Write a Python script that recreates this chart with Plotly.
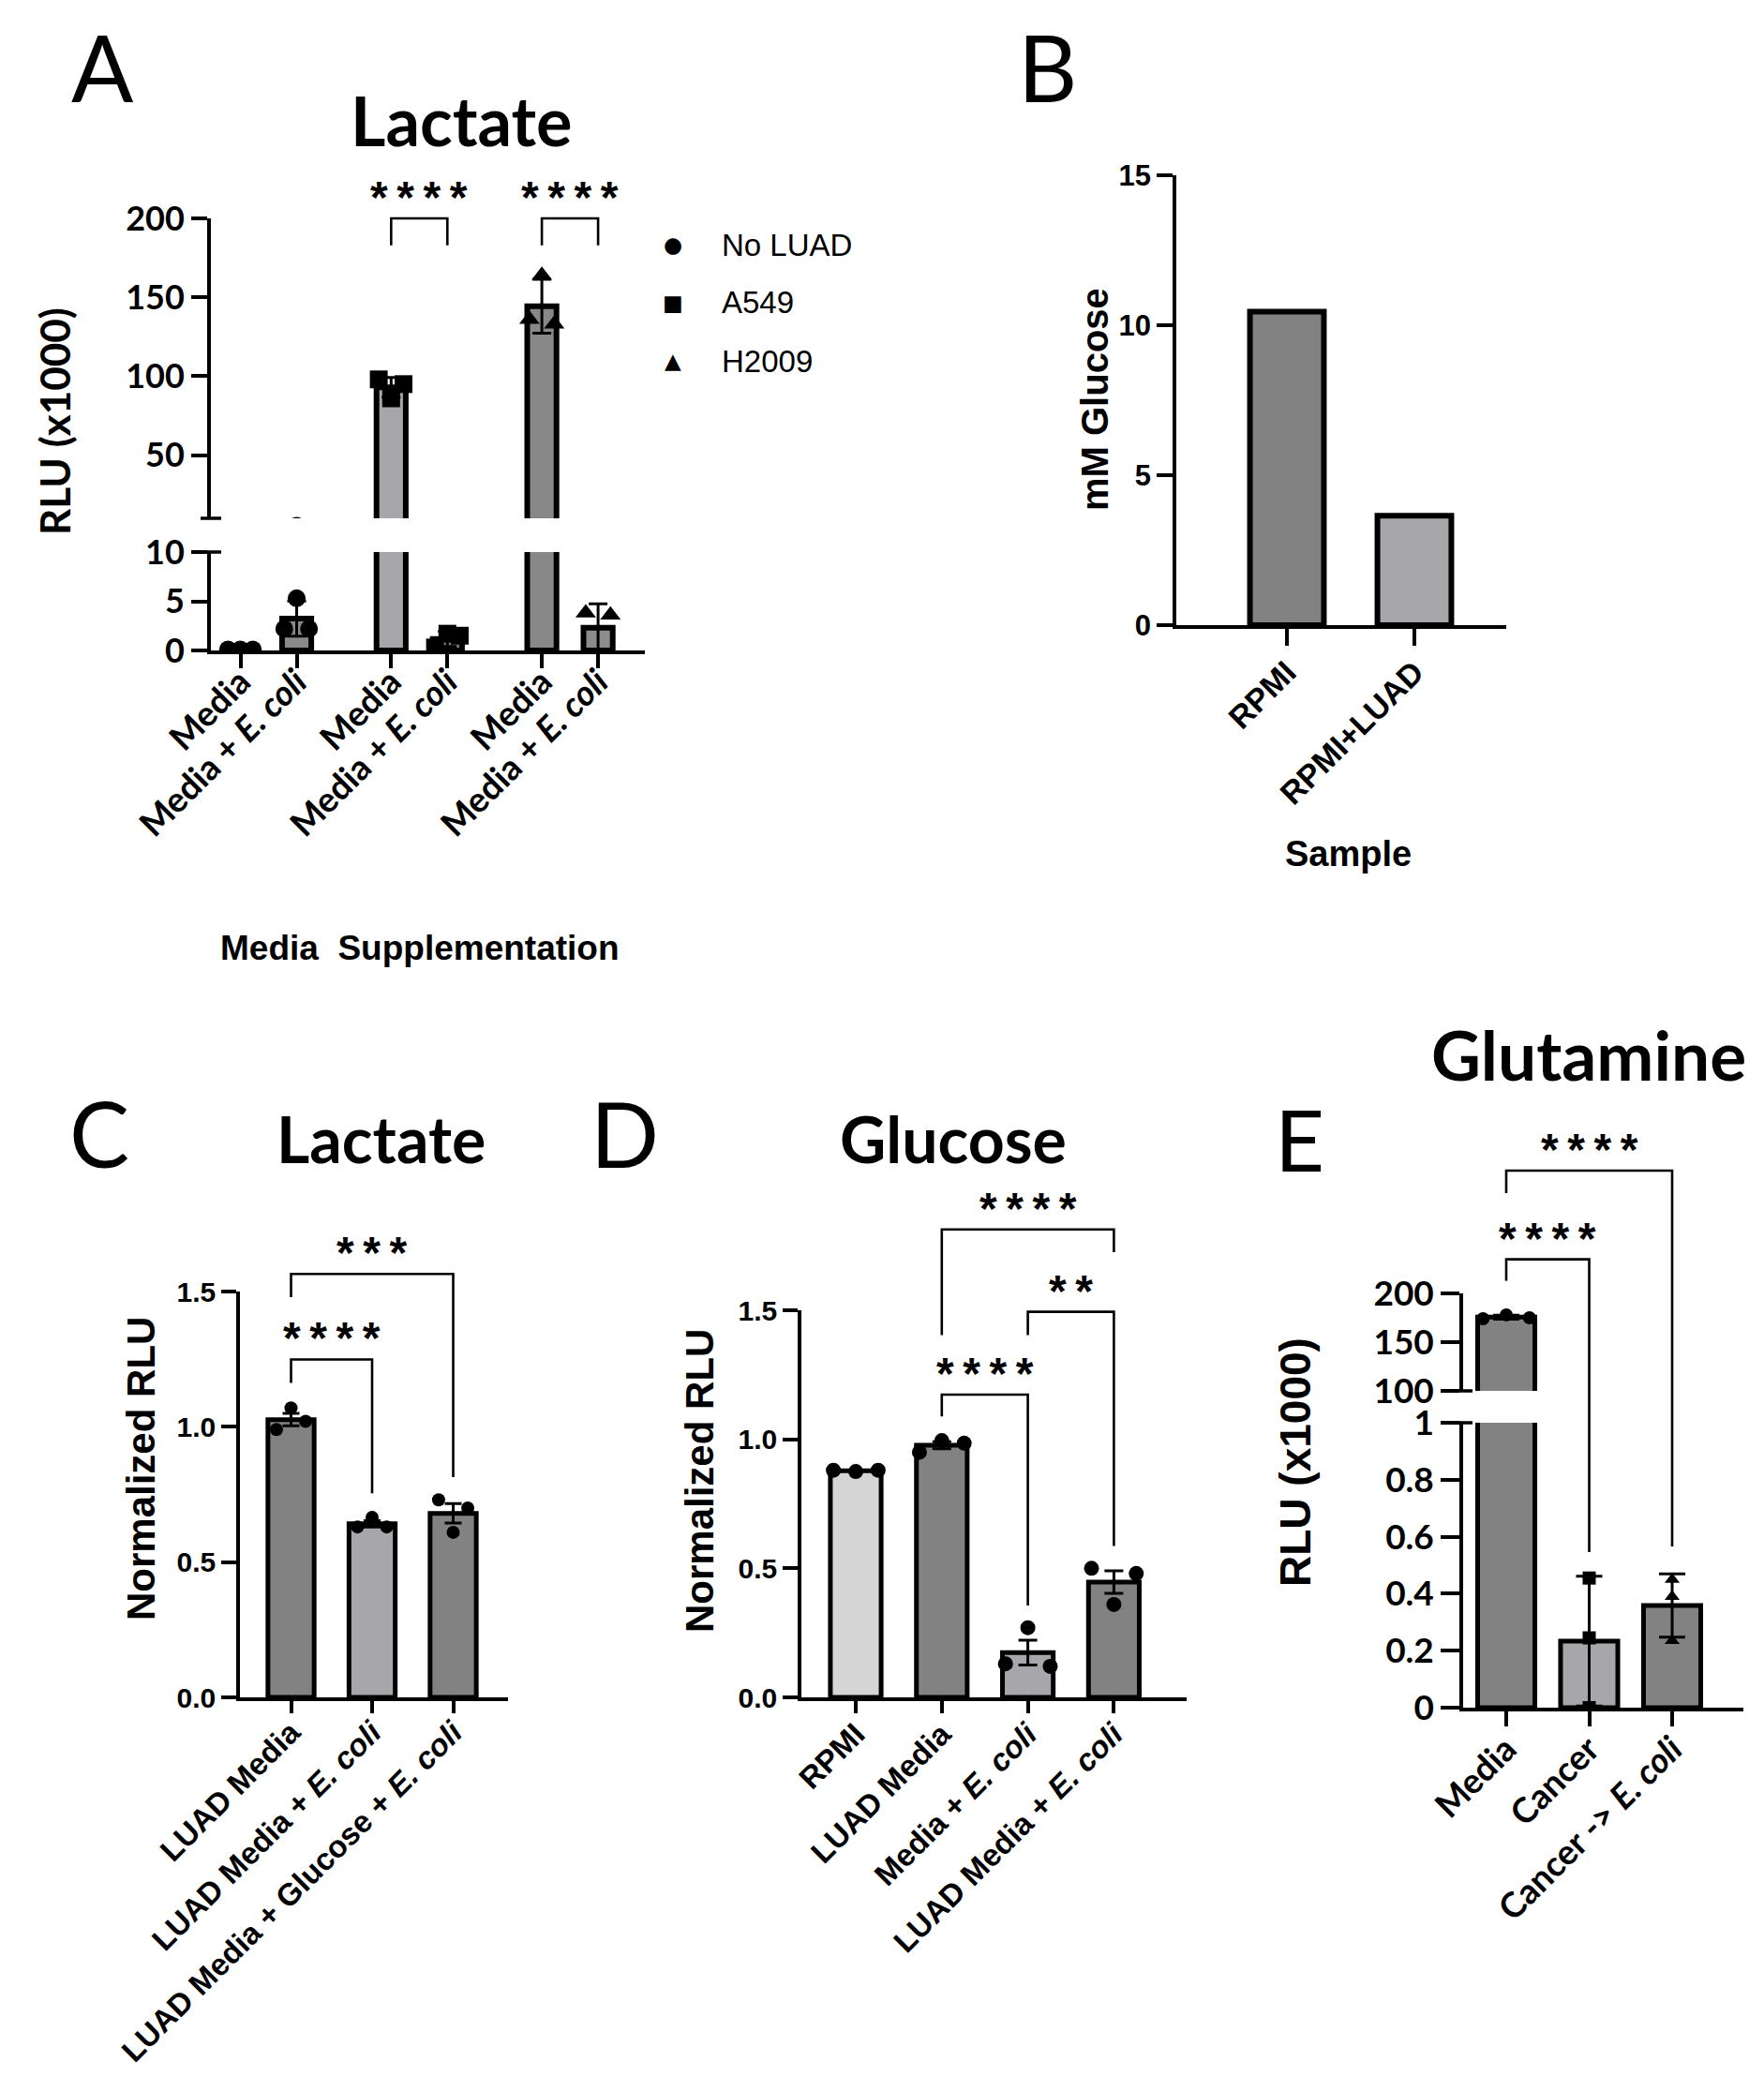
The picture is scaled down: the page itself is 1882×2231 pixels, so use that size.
import numpy as np
import plotly.graph_objects as go

W, H = 1882, 2231

# ======================= DATA =======================
# Panel A - Lactate, RLU (x1000), broken y axis
a_ticktext = ["Media", "Media + <i>E. coli</i>"] * 3
a_lines = ["No LUAD", "A549", "H2009"]
a_media_pts = [[0.1, 0.1, 0.1], [98, 86, 95], [136, 164, 133]]
a_ecoli_pts = [[2.2, 5.3, 2.2], [0.3, 1.7, 1.5], [3.8, -0.5, 3.6]]
a_lower_ticks = [0, 5, 10]
a_upper_ticks = [50, 100, 150, 200]
# (bar i, bar j, bracket top, left leg end, right leg end, label)
a_sig = [(2, 3, 200, 183, 183, "****"), (4, 5, 200, 183, 183, "****")]

# Panel B - mM Glucose
b_labels = ["RPMI", "RPMI+LUAD"]
b_values = [10.45, 3.65]
b_ticks = [0, 5, 10, 15]

# Panel C - Lactate, Normalized RLU
c_labels = ["LUAD Media", "LUAD Media + <i>E. coli</i>", "LUAD Media + Glucose + <i>E. coli</i>"]
c_points = [[0.99, 1.07, 1.02], [0.63, 0.665, 0.63], [0.73, 0.61, 0.70]]
c_ticks = [0.0, 0.5, 1.0, 1.5]
c_sig = [(0, 1, 1.249, 1.162, 0.754, "****"), (0, 2, 1.565, 1.479, 0.814, "***")]

# Panel D - Glucose, Normalized RLU
d_labels = ["RPMI", "LUAD Media", "Media + <i>E. coli</i>", "LUAD Media + <i>E. coli</i>"]
d_points = [[0.88, 0.875, 0.88], [0.95, 0.995, 0.985], [0.13, 0.27, 0.12], [0.50, 0.36, 0.48]]
d_ticks = [0.0, 0.5, 1.0, 1.5]
d_sig = [(1, 2, 1.173, 1.089, 0.356, "****"), (2, 3, 1.494, 1.404, 0.587, "**"),
         (1, 3, 1.813, 1.404, 1.725, "****")]

# Panel E - Glutamine, RLU (x1000), broken y axis
e_labels = ["Media", "Cancer", "Cancer -> <i>E. coli</i>"]
e_points = [[174, 178, 175], [0.455, 0.245, 0.0], [0.45, 0.39, 0.235]]
e_lower_ticks = [0, 0.2, 0.4, 0.6, 0.8, 1]
e_lower_text = ["0", "0.2", "0.4", "0.6", "0.8", "1"]
e_upper_ticks = [100, 150, 200]
e_sig = [(0, 1, 235, 213, 0.546, "****"), (0, 2, 326, 303, 0.566, "****")]

# ======================= STYLE / LAYOUT =======================
DARK, LIGHT, PALE = "#828282", "#a6a6ab", "#d5d5d5"
a_colors = [DARK, "#8a8a8a", LIGHT, DARK, "#888888", "#8c8c8c"]
a_symbols = ["circle", "square", "triangle-up"]
b_colors = [DARK, LIGHT]
c_colors = [DARK, LIGHT, DARK]
d_colors = [PALE, DARK, LIGHT, DARK]
e_colors = [DARK, LIGHT, DARK]
e_symbols = ["circle", "square", "triangle-up"]

CAL = "Lato"
ARI = "Liberation Sans"
NAR = "Liberation Sans Narrow, Arial Narrow, Liberation Sans"

def xrange_from(left, right, first, unit):
    return [(left - first) / unit, (right - first) / unit]

# a group gap of 0.68 of a bar slot between the cell lines
a_pos = [g * 2.68 + i for g in range(3) for i in range(2)]

P = {
    "A_lo": dict(xpx=(217, 680), xr=xrange_from(217, 680, 248.5, 60), ypx=(581, 686), yr=[0, 10]),
    "A_up": dict(xpx=(217, 680), xr=xrange_from(217, 680, 248.5, 60), ypx=(225, 545), yr=[10, 200]),
    "B": dict(xpx=(1247, 1599), xr=xrange_from(1247, 1599, 1365, 136), ypx=(179, 659), yr=[0, 15]),
    "C": dict(xpx=(248, 534), xr=xrange_from(248, 534, 302.5, 86.5), ypx=(1370, 1803), yr=[0, 1.5]),
    "D": dict(xpx=(847, 1258), xr=xrange_from(847, 1258, 905, 91.8), ypx=(1390, 1803), yr=[0, 1.5]),
    "E_lo": dict(xpx=(1553, 1852), xr=xrange_from(1553, 1852, 1599, 88.5), ypx=(1510, 1814), yr=[0, 1]),
    "E_up": dict(xpx=(1553, 1852), xr=xrange_from(1553, 1852, 1599, 88.5), ypx=(1372, 1476), yr=[100, 200]),
}

def xpx(p, v):
    l, r = p["xpx"]; r0, r1 = p["xr"]
    return l + (v - r0) / (r1 - r0) * (r - l)

def ypx(p, v):
    t, b = p["ypx"]; lo, hi = p["yr"]
    return b - (v - lo) / (hi - lo) * (b - t)

def fx(x): return x / W
def fy(y): return 1 - y / H

fig = go.Figure()
layout = {}
shapes = []
annotations = []

def add_axes(xname, yname, p, xtickvals=None, xticktext=None, xfont=None,
             ytickvals=None, yticktext=None, yfont=None, show_x=True,
             lw=3.5, ticklen=16, xticklen=16, xstandoff=0):
    xa = dict(domain=[fx(p["xpx"][0]), fx(p["xpx"][1])], range=p["xr"], anchor=yname,
              showgrid=False, zeroline=False, fixedrange=True, automargin=False)
    if show_x:
        xa.update(showline=True, linecolor="black", linewidth=lw, ticks="outside",
                  ticklen=xticklen, tickwidth=lw, tickcolor="black",
                  tickvals=xtickvals, ticktext=xticktext, tickangle=-45, tickfont=xfont,
                  ticklabelstandoff=xstandoff)
    else:
        xa.update(visible=False)
    ya = dict(domain=[fy(p["ypx"][1]), fy(p["ypx"][0])], range=p["yr"], anchor=xname,
              showgrid=False, zeroline=False, showline=True, linecolor="black", linewidth=lw,
              ticks="outside", ticklen=ticklen, tickwidth=lw, tickcolor="black",
              tickvals=ytickvals, ticktext=yticktext, tickfont=yfont, fixedrange=True,
              automargin=False)
    layout["xaxis" + xname[1:]] = xa
    layout["yaxis" + yname[1:]] = ya

def sem(v): return float(np.std(v, ddof=1) / np.sqrt(len(v)))
def sd(v): return float(np.std(v, ddof=1))

def bars(xn, yn, pos, vals, colors, width, err=None, lw=5, cap=10):
    fig.add_trace(go.Bar(x=pos, y=vals, width=width, xaxis=xn, yaxis=yn,
                         marker=dict(color=colors, line=dict(color="black", width=lw)),
                         error_y=dict(type="data", array=err, visible=err is not None,
                                      color="black", thickness=3, width=cap),
                         hoverinfo="skip", showlegend=False))

def points(xn, yn, xs, ys, symbol, size):
    fig.add_trace(go.Scatter(x=xs, y=ys, mode="markers", xaxis=xn, yaxis=yn,
                             marker=dict(symbol=symbol, size=size, color="black"),
                             hoverinfo="skip", showlegend=False))

def text(x, y, t, size, family, bold=True, angle=0, xanchor="center", yanchor="middle"):
    annotations.append(dict(x=fx(x), y=fy(y), xref="paper", yref="paper", text=t, showarrow=False,
                            textangle=angle, xanchor=xanchor, yanchor=yanchor,
                            font=dict(size=size, family=family, color="black",
                                      weight=700 if bold else 400)))

def seg_y(segs, v):
    # choose the axis segment for a value (broken axes)
    for p in segs:
        if v <= p["yr"][1] or p is segs[-1]:
            if v >= p["yr"][0] or p is segs[0]:
                return ypx(p, v)
    return ypx(segs[-1], v)

def brackets(p, segs, pos, sig, size=48, gap=6, lw=2.6):
    for i, j, top, lend, rend, lab in sig:
        x1, x2 = xpx(p, pos[i]), xpx(p, pos[j])
        yt, yl, yr_ = seg_y(segs, top), seg_y(segs, lend), seg_y(segs, rend)
        shapes.append(dict(type="path", xref="paper", yref="paper",
                           path=f"M {fx(x1)},{fy(yl)} L {fx(x1)},{fy(yt)} L {fx(x2)},{fy(yt)} L {fx(x2)},{fy(yr_)}",
                           line=dict(color="black", width=lw)))
        text((x1 + x2) / 2, yt + gap, "\u2009".join(lab), size, ARI, bold=True, yanchor="bottom")

def break_mark(p, y_value, left=11, right=11, lw=3.5):
    x0 = p["xpx"][0]
    y = ypx(p, y_value)
    shapes.append(dict(type="line", xref="paper", yref="paper", x0=fx(x0 - left), x1=fx(x0 + right),
                       y0=fy(y), y1=fy(y), line=dict(color="black", width=lw)))

# ======================= PANEL A =======================
a_means = []
a_err = []
for g in range(3):
    for pts in (a_media_pts[g], a_ecoli_pts[g]):
        a_means.append(float(np.mean(pts)))
        a_err.append(sd(pts))
jit_a = [-0.22, 0.0, 0.22]
for xn, yn in (("x", "y"), ("x2", "y2")):
    bars(xn, yn, a_pos, a_means, a_colors, 0.52, a_err, lw=6, cap=10)
    for g in range(3):
        xs = [a_pos[2 * g] + o for o in jit_a] + [a_pos[2 * g + 1] + o for o in jit_a]
        points(xn, yn, xs, a_media_pts[g] + a_ecoli_pts[g], a_symbols[g], 19)

fa_y = dict(family=CAL, size=36, color="black", weight=700)
fa_x = dict(family=CAL, size=37, color="black", weight=700)
add_axes("x", "y", P["A_lo"], a_pos, a_ticktext, fa_x, a_lower_ticks,
         [str(v) for v in a_lower_ticks], fa_y, lw=4, ticklen=17, xticklen=15, xstandoff=-22)
add_axes("x2", "y2", P["A_up"], None, None, None, a_upper_ticks,
         [str(v) for v in a_upper_ticks], fa_y, show_x=False, lw=4, ticklen=17)
break_mark(P["A_up"], 10)
break_mark(P["A_lo"], 10)
brackets(P["A_lo"], [P["A_lo"], P["A_up"]], a_pos, a_sig)

text(101, 63, "A", 98, CAL, bold=False)
text(484, 120, "Lactate", 72, CAL)
text(50, 442, "RLU (x1000)", 44, CAL, angle=-90)
text(440, 1003, "Media\u00a0 Supplementation", 37, ARI)
leg_glyph = {"circle": "\u25cf", "square": "\u25a0", "triangle-up": "\u25b2"}
for i, name in enumerate(a_lines):
    yrow = 253 + i * 62
    text(710, yrow, leg_glyph[a_symbols[i]], 23, "DejaVu Sans", bold=False)
    text(760, yrow, name, 33, ARI, bold=False, xanchor="left")

# ======================= PANEL B =======================
b_pos = list(range(len(b_values)))
bars("x3", "y3", b_pos, b_values, b_colors, 0.58, None, lw=6)
fb_y = dict(family=ARI, size=31, color="black", weight=700)
fb_x = dict(family=ARI, size=34, color="black", weight=700)
add_axes("x3", "y3", P["B"], b_pos, b_labels, fb_x, b_ticks, [str(v) for v in b_ticks], fb_y,
         lw=3.5, ticklen=17, xticklen=18, xstandoff=-5)
text(1109, 63, "B", 98, CAL, bold=False)
text(1160, 418, "mM Glucose", 40, ARI, angle=-90)
text(1430, 903, "Sample", 38, ARI)

# ======================= PANEL C =======================
c_pos = list(range(len(c_points)))
jit_c = [-0.18, 0.0, 0.18]
bars("x4", "y4", c_pos, [float(np.mean(v)) for v in c_points], c_colors, 0.57,
     [sem(v) for v in c_points], lw=5, cap=9)
points("x4", "y4", [c_pos[k] + o for k in c_pos for o in jit_c], sum(c_points, []), "circle", 14)
fc_y = dict(family=ARI, size=30, color="black", weight=700)
fc_x = dict(family=ARI, size=33, color="black", weight=700)
add_axes("x4", "y4", P["C"], c_pos, c_labels, fc_x, c_ticks, ["%.1f" % v for v in c_ticks], fc_y,
         lw=3.5, ticklen=16, xticklen=13, xstandoff=-12)
brackets(P["C"], [P["C"]], c_pos, c_sig)
text(98, 1200, "C", 96, CAL, bold=False)
text(398, 1206, "Lactate", 68, CAL)
text(143, 1559, "Normalized RLU", 42, NAR, angle=-90)

# ======================= PANEL D =======================
d_pos = list(range(len(d_points)))
jit_d = [-0.26, 0.0, 0.26]
bars("x5", "y5", d_pos, [float(np.mean(v)) for v in d_points], d_colors, 0.59,
     [sem(v) for v in d_points], lw=5, cap=10)
points("x5", "y5", [d_pos[k] + o for k in d_pos for o in jit_d], sum(d_points, []), "circle", 16)
fd_y = dict(family=ARI, size=30, color="black", weight=700)
fd_x = dict(family=ARI, size=33, color="black", weight=700)
add_axes("x5", "y5", P["D"], d_pos, d_labels, fd_x, d_ticks, ["%.1f" % v for v in d_ticks], fd_y,
         lw=3.5, ticklen=16, xticklen=13, xstandoff=-10)
brackets(P["D"], [P["D"]], d_pos, d_sig)
text(658, 1200, "D", 96, CAL, bold=False)
text(1009, 1206, "Glucose", 68, CAL)
text(738, 1572, "Normalized RLU", 42, NAR, angle=-90)

# ======================= PANEL E =======================
e_pos = list(range(len(e_points)))
jit_e = [[-0.28, 0.0, 0.28], [0.0, 0.0, 0.0], [0.0, 0.0, 0.0]]
e_means = [float(np.mean(v)) for v in e_points]
e_err = [sd(v) for v in e_points]
for xn, yn in (("x6", "y6"), ("x7", "y7")):
    bars(xn, yn, e_pos, e_means, e_colors, 0.69, e_err, lw=5, cap=14)
    for k in e_pos:
        points(xn, yn, [e_pos[k] + o for o in jit_e[k]], e_points[k], e_symbols[k], 14)
fe_y = dict(family=CAL, size=37, color="black", weight=700)
fe_x = dict(family=CAL, size=37, color="black", weight=700)
add_axes("x6", "y6", P["E_lo"], e_pos, e_labels, fe_x, e_lower_ticks, e_lower_text, fe_y,
         lw=3.5, ticklen=20, xticklen=16, xstandoff=-12)
add_axes("x7", "y7", P["E_up"], None, None, None, e_upper_ticks,
         [str(v) for v in e_upper_ticks], fe_y, show_x=False, lw=3.5, ticklen=20)
break_mark(P["E_up"], 100, left=13, right=10)
break_mark(P["E_lo"], 1, left=13, right=10)
brackets(P["E_lo"], [P["E_lo"], P["E_up"]], e_pos, e_sig)
text(1378, 1206, "E", 92, CAL, bold=False)
text(1687, 1117, "Glutamine", 73, CAL)
text(1374, 1552, "RLU (x1000)", 46, NAR, angle=-90)

fig.update_layout(template="none", width=W, height=H, margin=dict(l=0, r=0, t=0, b=0, pad=0),
                  paper_bgcolor="white", plot_bgcolor="white", showlegend=False,
                  barmode="overlay", shapes=shapes, annotations=annotations, **layout)
fig.write_html("out.html")
